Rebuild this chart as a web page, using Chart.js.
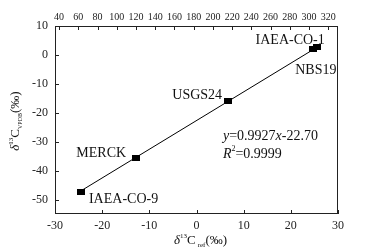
<!DOCTYPE html>
<html>
<head>
<meta charset="utf-8">
<script src="https://cdn.jsdelivr.net/npm/chart.js@4.4.0/dist/chart.umd.min.js"></script>
<style>
  html, body { margin: 0; padding: 0; background: #fff; }
  #wrap { width: 366px; height: 250px; }
</style>
</head>
<body>
<div id="wrap"><canvas id="chart" width="366" height="250"></canvas></div>
<script>
// reference materials: names, delta13C ref (x) and delta13C VPDB (y)
const refNames = ["IAEA-CO-9", "MERCK", "USGS24", "NBS19", "IAEA-CO-1"];
const refX = [-24.5, -12.8, 6.7, 24.8, 25.5];
const vpdbY = [-47.35, -35.6, -15.9, 1.95, 2.6];

// regression line ends
const fitX = [-24.5, 25.5];
const fitY = [-47.0, 2.6];

// ticks
const xTicks = [-30, -20, -10, 0, 10, 20, 30];
const yTicks = [10, 0, -10, -20, -30, -40, -50];
const topTicks = [40, 60, 80, 100, 120, 140, 160, 180, 200, 220, 240, 260, 280, 300, 320];

// equation text and where it sits (data units)
const eqText = "0.9927";
const eqIntercept = "22.70";
const r2Text = "0.9999";
const eqPos = { x: 5.6, y: -28.3 };
const r2Pos = { x: 5.6, y: -34.3 };

const SERIF = "'Liberation Serif', 'Times New Roman', serif";

// label offsets in px from each point [dx, dy, align]
const labelOffsets = {
  "IAEA-CO-9": [8, 7, "left"],
  "MERCK": [-10, -5, "right"],
  "USGS24": [-6, -6, "right"],
  "NBS19": [23, 21, "right"],
  "IAEA-CO-1": [8, -7, "right"],
};

// square marker, a bit wider than tall
const marker = document.createElement("canvas");
marker.width = 8;
marker.height = 6;
const mctx = marker.getContext("2d");
mctx.fillStyle = "#000";
mctx.fillRect(0, 0, 8, 6);

// draw a row of text pieces with their own fonts and vertical shifts
function drawRuns(ctx, x, y, runs, align) {
  let total = 0;
  runs.forEach(r => { ctx.font = r.font; total += ctx.measureText(r.t).width + (r.gap || 0); });
  let cx = x;
  if (align === "center") cx = x - total / 2;
  if (align === "right") cx = x - total;
  ctx.textAlign = "left";
  ctx.textBaseline = "middle";
  runs.forEach(r => {
    ctx.font = r.font;
    ctx.fillText(r.t, cx, y + (r.dy || 0));
    cx += ctx.measureText(r.t).width + (r.gap || 0);
  });
}

const decorPlugin = {
  id: "decor",
  afterDraw(chart) {
    const ctx = chart.ctx;
    const a = chart.chartArea;
    const xs = chart.scales.x, ys = chart.scales.y, x2 = chart.scales.x2;
    ctx.save();
    ctx.strokeStyle = "#222";
    ctx.lineWidth = 1;
    ctx.strokeRect(a.left + 0.5, a.top + 0.5, a.right - a.left - 1, a.bottom - a.top - 1);

    // inward tick marks
    ctx.beginPath();
    xTicks.forEach(v => {
      const px = Math.round(xs.getPixelForValue(v)) + 0.5;
      ctx.moveTo(px, a.bottom); ctx.lineTo(px, a.bottom - 4);
    });
    yTicks.forEach(v => {
      const py = Math.round(ys.getPixelForValue(v)) + 0.5;
      ctx.moveTo(a.left, py); ctx.lineTo(a.left + 4, py);
    });
    topTicks.forEach(v => {
      const px = Math.round(x2.getPixelForValue(v)) + 0.5;
      ctx.moveTo(px, a.top); ctx.lineTo(px, a.top + 4);
    });
    ctx.stroke();

    ctx.fillStyle = "#111";
    // point labels
    refNames.forEach((name, i) => {
      const o = labelOffsets[name];
      const px = xs.getPixelForValue(refX[i]) + o[0];
      const py = ys.getPixelForValue(vpdbY[i]) + o[1];
      ctx.font = "14px " + SERIF;
      ctx.textAlign = o[2];
      ctx.textBaseline = "middle";
      ctx.fillText(name, px, py);
    });

    // equation
    const f = "14px " + SERIF, fi = "italic 14px " + SERIF;
    drawRuns(ctx, xs.getPixelForValue(eqPos.x), ys.getPixelForValue(eqPos.y), [
      { t: "y", font: fi }, { t: "=" + eqText, font: f }, { t: "x", font: fi }, { t: "-" + eqIntercept, font: f }
    ], "left");
    drawRuns(ctx, xs.getPixelForValue(r2Pos.x), ys.getPixelForValue(r2Pos.y), [
      { t: "R", font: fi }, { t: "2", font: "8px " + SERIF, dy: -5 }, { t: "=" + r2Text, font: f }
    ], "left");

    // axis titles
    const tf = "13px " + SERIF, tfi = "italic 13px " + SERIF, sf = "7px " + SERIF;
    drawRuns(ctx, (a.left + a.right) / 2 + 4, 241, [
      { t: "δ", font: tfi }, { t: "13", font: sf, dy: -5 }, { t: "C", font: tf, gap: 2 },
      { t: "ref", font: sf, dy: 4 }, { t: "(‰)", font: tf }
    ], "center");
    ctx.translate(16, (a.top + a.bottom) / 2 + 1);
    ctx.rotate(-Math.PI / 2);
    drawRuns(ctx, 0, 0, [
      { t: "δ", font: tfi }, { t: "13", font: sf, dy: -5 }, { t: "C", font: tf },
      { t: "VPDB", font: "6px " + SERIF, dy: 4 }, { t: "(‰)", font: tf }
    ], "center");
    ctx.restore();
  }
};

const ctx = document.getElementById("chart");
new Chart(ctx, {
  type: "scatter",
  data: {
    datasets: [
      {
        label: "fit",
        type: "line",
        data: fitX.map((x, i) => ({ x: x, y: fitY[i] })),
        borderColor: "#000",
        borderWidth: 1,
        pointRadius: 0,
        fill: false,
      },
      {
        label: "standards",
        data: refX.map((x, i) => ({ x: x, y: vpdbY[i] })),
        pointStyle: marker,
        backgroundColor: "#000",
        borderColor: "#000",
      },
    ],
  },
  options: {
    responsive: false,
    animation: false,
    layout: { padding: { left: 0, right: 28, top: 0, bottom: 0 } },
    plugins: {
      legend: { display: false },
      tooltip: { enabled: false },
    },
    scales: {
      x: {
        type: "linear",
        position: "bottom",
        min: -30,
        max: 30,
        afterBuildTicks: s => { s.ticks = xTicks.map(v => ({ value: v })); },
        afterFit: s => { s.height = 36; },
        grid: { display: false, drawTicks: false },
        border: { display: false },
        ticks: { color: "#222", padding: 5, font: { family: SERIF, size: 12 } },
      },
      x2: {
        type: "linear",
        position: "top",
        min: 35.8,
        max: 330.1,
        afterBuildTicks: s => { s.ticks = topTicks.map(v => ({ value: v })); },
        afterFit: s => { s.height = 26; },
        grid: { display: false, drawTicks: false },
        border: { display: false },
        ticks: { color: "#222", padding: 3, maxRotation: 0, autoSkip: false, font: { family: SERIF, size: 10 } },
      },
      y: {
        type: "linear",
        min: -55,
        max: 10,
        afterBuildTicks: s => { s.ticks = yTicks.map(v => ({ value: v })); },
        afterFit: s => { s.width = 55; },
        grid: { display: false, drawTicks: false },
        border: { display: false },
        ticks: { color: "#222", padding: 7, font: { family: SERIF, size: 12 } },
      },
    },
  },
  plugins: [decorPlugin],
});
</script>
</body>
</html>
